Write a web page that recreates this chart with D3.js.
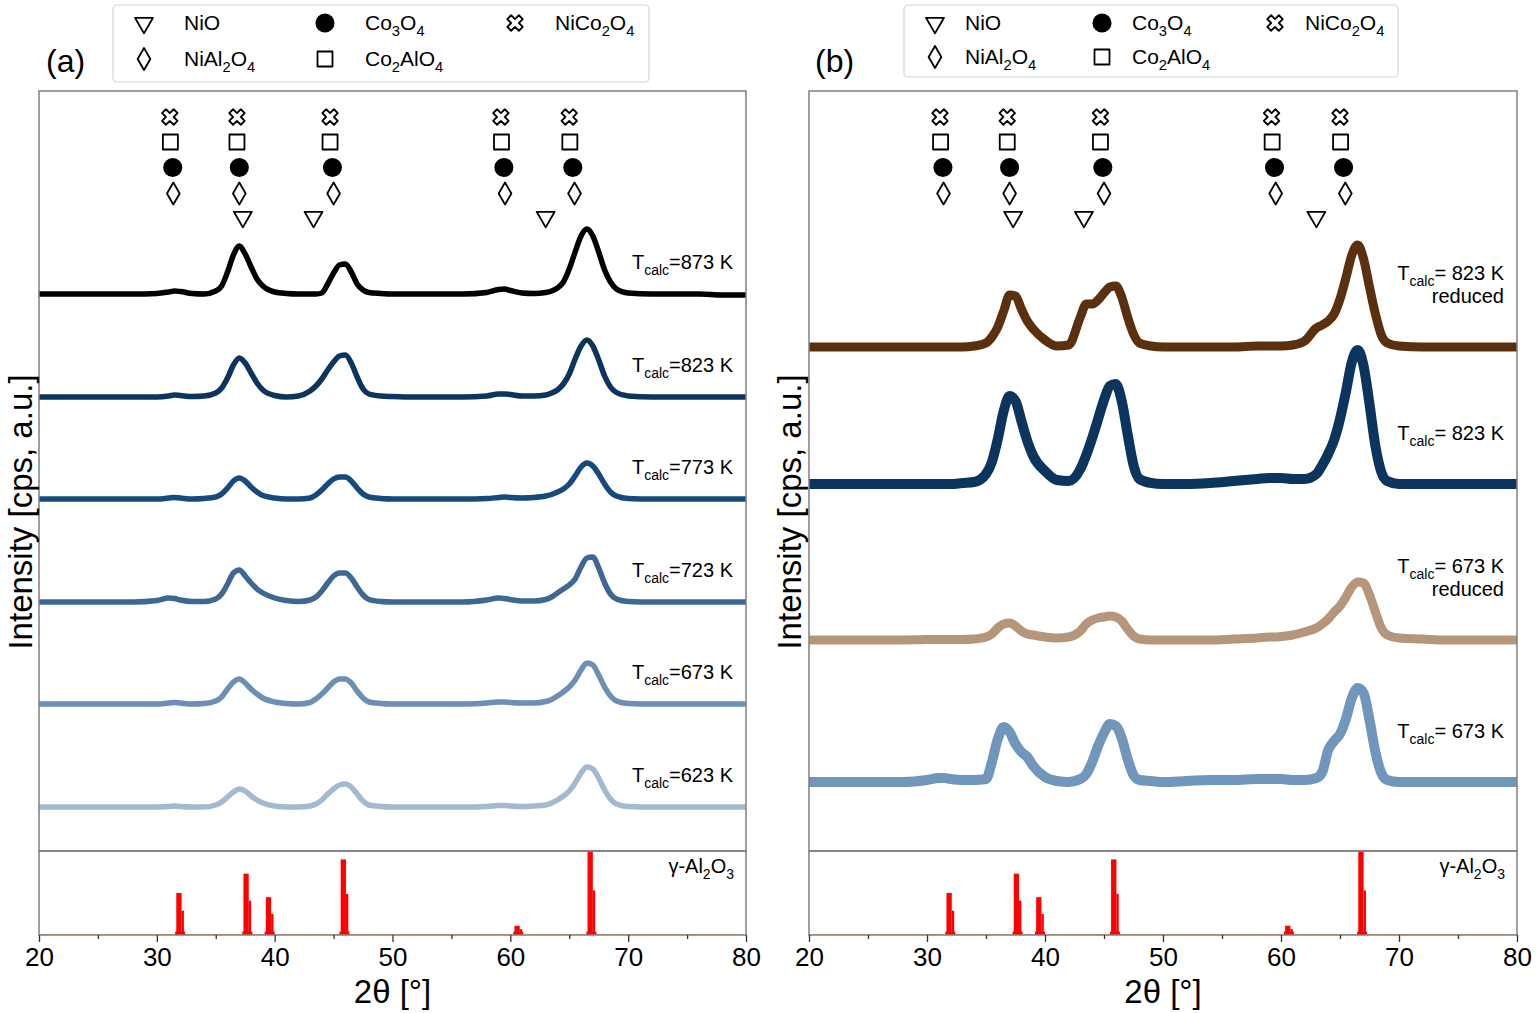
<!DOCTYPE html>
<html>
<head>
<meta charset="utf-8">
<script src="https://cdn.jsdelivr.net/npm/d3@7"></script>
<style>
  body { margin: 0; background: #fff; }
  text { font-family: "Liberation Sans", Arial, sans-serif; fill: #000; }
</style>
</head>
<body>
<svg id="chart" width="1536" height="1013"></svg>
<script>
// 2theta grid (deg) shared by all patterns
var twoTheta = [20,22,24,26,28,30,31,31.5,32,33,
  34,35,35.5,36,36.5,37,37.5,38,38.5,39,
  40,41,42,43,43.5,44,44.5,45,45.5,46,
  46.5,47,47.5,48,49,50,52,54,56,58,
  59,59.5,60,61,62,63,63.5,64,64.5,65,
  65.5,66,66.5,67,67.5,68,68.5,69,70,72,
  74,76,78,80];

// panel (a): calcination series, intensity above each baseline (a.u.)
var labelsA = ["873 K", "823 K", "773 K", "723 K", "673 K", "623 K"];
var offsetsA = [55.7, 45.4, 35.2, 24.9, 14.7, 4.4];
var t873 = [0,0,0,0,0,0.05,0.2,0.3,0.25,0.05,
  0,0.3,0.8,2.2,3.9,4.8,4.0,2.7,1.5,0.8,
  0.2,0.05,0,0,0,0.1,1.0,2.1,2.9,3.0,
  2.2,1.0,0.4,0.15,0.05,0,0,0,0,0.15,
  0.45,0.5,0.35,0.1,0.05,0.15,0.3,0.6,1.2,2.5,
  4.2,5.8,6.5,5.8,4.2,2.4,1.2,0.5,0.1,0,
  0,0,-0.1,-0.1];
var t823 = [0,0,0,0,0,0,0.1,0.2,0.15,0.05,
  0.1,0.4,0.9,1.9,3.2,3.9,3.4,2.4,1.4,0.7,
  0.15,0,0.1,0.6,1.1,1.8,2.7,3.5,4.1,4.2,
  3.4,2.0,0.8,0.3,0.1,0.05,0,0,0,0.1,
  0.3,0.3,0.25,0.1,0.1,0.2,0.4,0.7,1.3,2.3,
  3.8,5.1,5.7,5.1,3.7,2.1,1.0,0.45,0.1,0,
  0,0,0,0];
var t773 = [0,0,0,0,0,0,0.1,0.15,0.1,0,
  0.05,0.2,0.5,1.1,1.8,2.1,1.8,1.2,0.7,0.35,
  0.1,0,0,0.1,0.4,0.9,1.5,2.0,2.2,2.2,
  1.8,1.1,0.5,0.2,0.05,0,0,0,0,0.05,
  0.15,0.2,0.15,0.1,0.15,0.3,0.45,0.7,1.0,1.5,
  2.3,3.2,3.6,3.3,2.5,1.5,0.7,0.3,0.05,0,
  0,0,0,0];
var t723 = [0,0,0,0,0,0.15,0.4,0.35,0.2,0.05,
  0.05,0.3,0.8,1.8,2.9,3.2,2.6,1.9,1.3,0.9,
  0.4,0.15,0.05,0.2,0.5,1.1,1.9,2.6,2.9,2.9,
  2.4,1.5,0.7,0.25,0.05,0,0,0,0,0.2,
  0.4,0.35,0.25,0.1,0.1,0.25,0.5,0.9,1.3,1.7,
  2.3,3.5,4.4,4.5,3.4,1.9,0.8,0.3,0.05,0,
  0,0,0,0];
var t673 = [0,0,0,0,0,0,0.1,0.15,0.1,0,
  0.05,0.3,0.7,1.5,2.2,2.5,2.1,1.5,1.0,0.6,
  0.2,0.05,0,0.15,0.5,1.0,1.6,2.2,2.5,2.5,
  2.1,1.3,0.6,0.2,0.05,0,0,0,0,0.1,
  0.2,0.2,0.15,0.1,0.1,0.25,0.45,0.8,1.2,1.7,
  2.4,3.4,4.1,3.9,2.9,1.7,0.8,0.3,0.05,0,
  0,0,0,0];
var t623 = [0,0,0,0,0,0,0.05,0.1,0.05,0,
  0,0.2,0.5,1.0,1.5,1.8,1.6,1.1,0.7,0.4,
  0.1,0,0,0.1,0.3,0.7,1.3,1.8,2.2,2.3,
  2.0,1.3,0.6,0.2,0.05,0,0,0,0,0.05,
  0.15,0.15,0.1,0.05,0.1,0.2,0.4,0.7,1.1,1.6,
  2.4,3.4,4.0,3.8,2.9,1.7,0.8,0.3,0.05,0,
  0,0,0,0];
var seriesA = [t873, t823, t773, t723, t673, t623];

// panel (b): calcined vs reduced
var labelsB = [["823 K", "reduced"], ["823 K"], ["673 K", "reduced"], ["673 K"]];
var offsetsB = [50.4, 36.7, 21.1, 6.9];
var r823 = [0,0,0,0,0,0,0,0,0,0,
  0.1,0.4,1.0,2.0,3.6,5.2,5.1,3.8,2.6,1.8,
  0.7,0.1,0.2,3.0,4.3,4.3,4.7,5.4,6.0,6.1,
  5.0,3.0,1.3,0.4,0.1,0,0,0,0,0.1,
  0.1,0.1,0.1,0.2,0.6,1.9,2.2,2.6,3.3,4.8,
  6.9,9.2,10.2,8.8,6.0,3.3,1.2,0.4,0.1,0,
  0,0,0,0];
var c823 = [0,0,0,0,0,0,0,0,0,0.1,
  0.2,1.0,2.2,4.5,7.3,8.8,8.3,6.3,4.3,2.8,
  1.3,0.4,0.3,1.5,2.9,4.6,6.5,8.4,9.8,10.0,
  8.3,5.0,1.9,0.5,0.1,0,0,0.1,0.3,0.5,
  0.6,0.6,0.6,0.5,0.5,1.0,1.9,3.0,4.4,6.5,
  9.2,12.2,13.4,11.8,8.0,3.8,1.2,0.3,0,0,
  0,0,0,0];
var r673 = [0,0,0,0,0,0.05,0.05,0.05,0.05,0.05,
  0.1,0.3,0.6,1.2,1.6,1.7,1.4,0.9,0.6,0.5,
  0.3,0.2,0.3,0.9,1.6,2.0,2.2,2.3,2.4,2.3,
  1.9,1.1,0.4,0.1,0,0,0,0,0.1,0.2,
  0.3,0.3,0.35,0.5,0.8,1.2,1.6,2.1,2.8,3.4,
  4.3,5.3,5.8,5.7,4.5,2.8,1.2,0.5,0.2,0.1,
  0,0,0,0];
var c673 = [0,0,0,0,0,0.2,0.4,0.4,0.3,0.2,
  0.2,0.3,2.0,4.3,5.5,5.0,3.8,3.0,2.5,1.6,
  0.5,0.1,0,0.3,0.8,2.0,3.6,4.9,5.8,5.6,
  4.4,2.3,0.7,0.2,0.1,0,0.1,0.2,0.2,0.3,
  0.3,0.3,0.3,0.2,0.2,0.4,1.0,3.2,4.1,4.8,
  6.3,8.4,9.4,8.9,6.2,3.0,0.9,0.2,0,0,
  0,0,0,0];
var seriesB = [r823, c823, r673, c673];

// phase reflections (deg), rows top to bottom
var phases = ["NiCo2O4", "Co2AlO4", "Co3O4", "NiAl2O4", "NiO"];
var phasePeaks = [
  [31.1, 36.8, 44.7, 59.2, 65.0],
  [31.15, 36.8, 44.7, 59.25, 65.05],
  [31.35, 37.0, 44.9, 59.45, 65.3],
  [31.4, 37.0, 45.0, 59.55, 65.45],
  [37.3, 43.3, 63.0]
];

// gamma-Al2O3 reference pattern (relative intensity, Ka1 and Ka2 shoulder)
var refPos = [31.9, 37.6, 39.5, 45.85, 60.6, 66.8];
var refHeight = [50, 73, 45, 90, 11, 100];
var refShoulder = [29, 41, 25, 49, 7, 53];

var xTicks = [20, 30, 40, 50, 60, 70, 80];
var xMinor = [25, 35, 45, 55, 65, 75];

// ---------------------------------------------------------------
var svg = d3.select("#chart");
var rowLevel = [73.4, 70.9, 68.35, 65.75, 63.4];
var symbols = {
  "NiCo2O4": {type: d3.symbolCross, size: 150, rot: 45, fill: "#fff"},
  "Co2AlO4": {type: d3.symbolSquare, size: 225, rot: 0, fill: "#fff"},
  "Co3O4": {type: d3.symbolCircle, size: 235, rot: 0, fill: "#000"},
  "NiAl2O4": {type: d3.symbolDiamond, size: 140, rot: 0, fill: "#fff"},
  "NiO": {type: d3.symbolTriangle, size: 140, rot: 180, fill: "#fff"}
};

// text with subscripts: parts = [[str, isSub], ...]
function rich(t, parts, fs) {
  var down = false;
  parts.forEach(function(p) {
    var ts = t.append("tspan").text(p[0]);
    if (p[1] && !down) { ts.attr("dy", fs * 0.3).attr("font-size", fs * 0.7); down = true; }
    else if (p[1]) { ts.attr("font-size", fs * 0.7); }
    else if (down) { ts.attr("dy", -fs * 0.3); down = false; }
  });
}
function chem(str) {
  return str.split(/(\d+)/).filter(function(s) { return s.length; })
    .map(function(s) { return [s, /^\d+$/.test(s)]; });
}
function marker(g, name, cx, cy) {
  var s = symbols[name];
  g.append("path")
    .attr("d", d3.symbol().type(s.type).size(s.size)())
    .attr("transform", "translate(" + cx + "," + cy + ") rotate(" + s.rot + ")")
    .attr("fill", s.fill)
    .attr("stroke", "#000")
    .attr("stroke-width", 1.8)
    .attr("stroke-linejoin", "round");
}

function drawPanel(p) {
  var x = d3.scaleLinear().domain([20, 80]).range([p.left, p.right]);
  var y = d3.scaleLinear().domain([0, 76]).range([851, 91]);
  var yr = d3.scaleLinear().domain([0, 100]).range([935, 851]);
  var g = svg.append("g");

  g.append("clipPath").attr("id", "clip" + p.id)
    .append("rect").attr("x", p.left).attr("y", 91)
    .attr("width", p.right - p.left).attr("height", 844);

  // XRD patterns
  var plot = g.append("g").attr("clip-path", "url(#clip" + p.id + ")");
  p.series.forEach(function(vals, k) {
    var line = d3.line()
      .x(function(d, i) { return x(twoTheta[i]); })
      .y(function(d) { return y(p.offsets[k] + d); })
      .curve(d3.curveMonotoneX);
    plot.append("path").datum(vals)
      .attr("d", line)
      .attr("fill", "none")
      .attr("stroke", p.colors[k])
      .attr("stroke-width", p.widths[k])
      .attr("stroke-linejoin", "round");
  });

  // reference sticks
  plot.append("line")
    .attr("x1", x(20)).attr("x2", x(80))
    .attr("y1", yr(0.6)).attr("y2", yr(0.6))
    .attr("stroke", "#f6b07c").attr("stroke-width", 1);
  refPos.forEach(function(pos, i) {
    plot.append("rect")
      .attr("x", x(pos - 0.35)).attr("width", x(pos + 0.5) - x(pos - 0.35))
      .attr("y", yr(4)).attr("height", yr(0) - yr(4))
      .attr("fill", "#ff0000");
    plot.append("rect")
      .attr("x", x(pos - 0.25)).attr("width", x(pos + 0.2) - x(pos - 0.25))
      .attr("y", yr(refHeight[i])).attr("height", yr(0) - yr(refHeight[i]))
      .attr("fill", "#ff0000");
    plot.append("rect")
      .attr("x", x(pos + 0.2)).attr("width", x(pos + 0.4) - x(pos + 0.2))
      .attr("y", yr(refShoulder[i])).attr("height", yr(0) - yr(refShoulder[i]))
      .attr("fill", "#ff0000");
  });

  // frames
  g.append("rect").attr("x", p.left).attr("y", 91)
    .attr("width", p.right - p.left).attr("height", 760)
    .attr("fill", "none").attr("stroke", "#808080").attr("stroke-width", 1.5);
  g.append("rect").attr("x", p.left).attr("y", 851)
    .attr("width", p.right - p.left).attr("height", 84)
    .attr("fill", "none").attr("stroke", "#808080").attr("stroke-width", 1.5);

  // phase markers
  phases.forEach(function(name, r) {
    phasePeaks[r].forEach(function(pos) {
      marker(g, name, x(pos), y(rowLevel[r]));
    });
  });

  // trace labels
  p.series.forEach(function(vals, k) {
    var lines = p.labels[k];
    var base = y(p.offsets[k] + p.labelLift);
    for (var j = lines.length - 1; j >= 0; j--) {
      var t = g.append("text")
        .attr("x", p.right - 13)
        .attr("y", base - (lines.length - 1 - j) * 23)
        .attr("text-anchor", "end")
        .attr("font-size", 20);
      if (j === 0) rich(t, [["T", 0], ["calc", 1], [p.eq + lines[0], 0]], 20);
      else t.text(lines[j]);
    }
  });

  var ref = g.append("text").attr("x", p.right - 12).attr("y", 873)
    .attr("text-anchor", "end").attr("font-size", 20);
  rich(ref, chem("\u03b3-Al2O3"), 20);

  // x axis
  var axis = g.append("g").attr("transform", "translate(0,935)")
    .call(d3.axisBottom(x).tickValues(xTicks).tickSize(7).tickPadding(6)
      .tickFormat(d3.format("d")));
  axis.select(".domain").remove();
  axis.selectAll("line").attr("stroke", "#333").attr("stroke-width", 1.3);
  axis.selectAll("text").attr("font-size", 26)
    .style("font-family", '"Liberation Sans", Arial, sans-serif');
  var minor = g.append("g").attr("transform", "translate(0,935)")
    .call(d3.axisBottom(x).tickValues(xMinor).tickSize(4).tickFormat(""));
  minor.select(".domain").remove();
  minor.selectAll("line").attr("stroke", "#333").attr("stroke-width", 1.3);

  g.append("text").attr("x", (p.left + p.right) / 2).attr("y", 1003)
    .attr("text-anchor", "middle").attr("font-size", 33).text("2\u03b8 [\u00b0]");
  g.append("text")
    .attr("transform", "translate(" + p.yLabelX + ",512) rotate(-90)")
    .attr("text-anchor", "middle").attr("dominant-baseline", "central")
    .attr("font-size", 33).text("Intensity [cps, a.u.]");
  g.append("text").attr("x", p.tagX).attr("y", 72)
    .attr("font-size", 32).text(p.tag);

  // legend
  var L = p.legend;
  g.append("rect").attr("x", L.x).attr("y", 5).attr("width", L.w).attr("height", L.h)
    .attr("rx", 4).attr("fill", "#fff").attr("stroke", "#d4d4d4").attr("stroke-width", 1.2);
  var legendOrder = [["NiO", 0, 0], ["Co3O4", 1, 0], ["NiCo2O4", 2, 0], ["NiAl2O4", 0, 1], ["Co2AlO4", 1, 1]];
  legendOrder.forEach(function(e) {
    var cx = L.cols[e[1]], cy = L.rows[e[2]];
    marker(g, e[0], cx, cy);
    var t = g.append("text").attr("x", cx + L.gap).attr("y", cy + 7).attr("font-size", 21);
    rich(t, chem(e[0]), 21);
  });
}

drawPanel({
  id: "a", tag: "(a)", tagX: 46, left: 39, right: 746, yLabelX: 20,
  series: seriesA, offsets: offsetsA, labels: labelsA.map(function(l) { return [l]; }),
  colors: ["#000000", "#0c355d", "#164a7d", "#3d6894", "#6b8fb5", "#a2b9d0"],
  widths: [5.5, 5.5, 5.5, 5.5, 5.5, 5.5],
  labelLift: 2.5, eq: "=",
  legend: {x: 113, w: 536, h: 77, cols: [144, 325, 515], rows: [23, 59], gap: 40}
});
drawPanel({
  id: "b", tag: "(b)", tagX: 815, left: 809, right: 1517, yLabelX: 789,
  series: seriesB, offsets: offsetsB, labels: labelsB,
  colors: ["#5a300e", "#0c355d", "#b5967a", "#7096bb"],
  widths: [9, 10, 9, 10],
  labelLift: 4.4, eq: "= ",
  legend: {x: 904, w: 494, h: 72, cols: [935, 1102, 1275], rows: [23, 57], gap: 30}
});
</script>
</body>
</html>
